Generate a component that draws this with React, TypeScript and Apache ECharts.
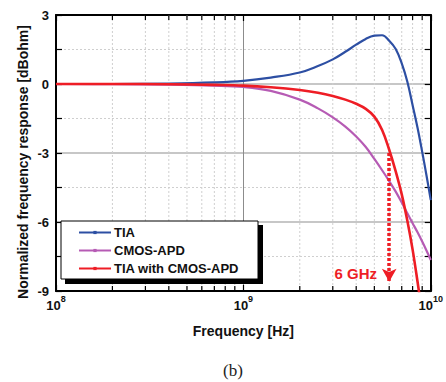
import React, { useEffect, useRef } from "react";
import * as echarts from "echarts";

// Frequencies in GHz (shared by the three curves), responses in dB
const FREQ_GHZ = [0.1, 0.2, 0.4, 0.7, 1.0, 1.4, 2.0, 2.5, 3.0, 3.5, 4.0, 4.5, 5.0, 5.5, 6.0, 6.5, 7.0, 7.5, 8.0, 8.5, 9.0, 9.5, 10];
const TIA_DB = [0, 0, 0.02, 0.07, 0.14, 0.28, 0.5, 0.78, 1.07, 1.4, 1.71, 1.96, 2.1, 2.12, 1.88, 1.52, 0.9, 0.1, -0.92, -1.9, -2.95, -4.0, -5.05];
const APD_DB = [0, -0.01, -0.03, -0.07, -0.13, -0.3, -0.68, -1.06, -1.45, -1.85, -2.28, -2.74, -3.26, -3.75, -4.22, -4.68, -5.15, -5.62, -6.05, -6.45, -6.85, -7.25, -7.65];
const COMB_DB = [0, 0, -0.01, -0.04, -0.07, -0.14, -0.26, -0.38, -0.52, -0.68, -0.86, -1.08, -1.42, -2.0, -2.86, -3.8, -4.8, -5.95, -7.2, -8.6, -10.0, -11.4, -12.8];

const SERIES_NAMES = ["TIA", "CMOS-APD", "TIA with CMOS-APD"];
const MINOR_FREQS = [2e8, 3e8, 4e8, 5e8, 6e8, 7e8, 8e8, 9e8, 2e9, 3e9, 4e9, 5e9, 6e9, 7e9, 8e9, 9e9];
const BANDWIDTH_HZ = 6e9;
const BANDWIDTH_LABEL = "6 GHz";
const Y_MIN = -9;
const Y_MAX = 3;
const Y_STEP = 3;
const X_MIN = 1e8;
const X_MAX = 1e10;

const BLUE = "#2d4fa3";
const PURPLE = "#b65bb4";
const RED = "#ee1d25";
const FONT = "Arial, 'Liberation Sans', Helvetica, sans-serif";

const toPairs = (db: number[]) => FREQ_GHZ.map((g, i) => [g * 1e9, db[i]]);

export default function App() {
  const ref = useRef<HTMLDivElement>(null);
  useEffect(() => {
    if (!ref.current) return;
    const chart = echarts.init(ref.current, null, { renderer: "svg" });
    const axisLine = { show: true, onZero: false, lineStyle: { color: "#000", width: 2 } };
    const xCommon = {
      type: "log",
      logBase: 10,
      min: X_MIN,
      max: X_MAX,
      axisLine,
      axisTick: { show: true, inside: true, length: 6, lineStyle: { color: "#000", width: 1.2 } },
    };
    const yCommon = {
      type: "value",
      min: Y_MIN,
      max: Y_MAX,
      interval: Y_STEP,
      axisLine,
      axisTick: { show: true, inside: true, length: 6, lineStyle: { color: "#000", width: 1.2 } },
      minorTick: { show: true, splitNumber: 2, length: 6, lineStyle: { color: "#000", width: 1.2 } },
    };
    const lineCommon = {
      type: "line",
      smooth: 0.4,
      symbol: "rect",
      symbolSize: 3,
      showSymbol: false,
    };
    const option: any = {
      animation: false,
      backgroundColor: "#fff",
      grid: { left: 56, right: 12, top: 15, bottom: 91 },
      xAxis: [
        {
          ...xCommon,
          position: "bottom",
          name: "Frequency [Hz]",
          nameLocation: "middle",
          nameGap: 33,
          nameTextStyle: { fontFamily: FONT, fontWeight: "bold", fontSize: 14, color: "#111" },
          splitLine: { show: true, lineStyle: { color: "#8c8c8c", width: 1 } },
          axisLabel: {
            margin: 3,
            formatter: (v: number) => "{a|10}{b|" + Math.round(Math.log10(v)) + "}",
            rich: {
              a: { fontFamily: FONT, fontWeight: "bold", fontSize: 13, color: "#111", lineHeight: 18, verticalAlign: "bottom" },
              b: { fontFamily: FONT, fontWeight: "bold", fontSize: 9, color: "#111", lineHeight: 9, verticalAlign: "top" },
            },
          },
        },
        {
          ...xCommon,
          position: "top",
          axisLabel: { show: false },
          splitLine: { show: false },
        },
      ],
      yAxis: [
        {
          ...yCommon,
          position: "left",
          splitLine: { show: true, lineStyle: { color: "#b4b4b4", width: 1.5 } },
          minorSplitLine: { show: true, lineStyle: { color: "#cfcfcf", width: 1, type: [2, 2] } },
          axisLabel: { margin: 7, fontFamily: FONT, fontWeight: "bold", fontSize: 13, color: "#111" },
        },
        {
          ...yCommon,
          position: "right",
          axisLabel: { show: false },
          splitLine: { show: false },
        },
      ],
      legend: {
        data: SERIES_NAMES,
        orient: "vertical",
        left: 78,
        top: 226,
        padding: 0,
        itemWidth: 32,
        itemHeight: 4,
        itemGap: 5,
        z: 20,
        textStyle: { fontFamily: FONT, fontWeight: "bold", fontSize: 13, color: "#111", padding: [0, 0, 0, -2] },
      },
      graphic: [
        { type: "rect", z: 10, shape: { x: 65, y: 225, width: 198, height: 59 }, style: { fill: "#000" } },
        { type: "rect", z: 11, shape: { x: 61, y: 221, width: 197, height: 58 }, style: { fill: "#fff", stroke: "#000", lineWidth: 1 } },
        {
          type: "text",
          z: 11,
          x: 377,
          y: 273,
          style: { text: BANDWIDTH_LABEL, fill: RED, fontFamily: FONT, fontWeight: "bold", fontSize: 15, align: "right", verticalAlign: "middle" },
        },
        {
          type: "text",
          x: 23,
          y: 162,
          rotation: Math.PI / 2,
          style: {
            text: "Normalized frequency response [dBohm]",
            fill: "#111",
            fontFamily: FONT,
            fontWeight: "bold",
            fontSize: 14,
            align: "center",
            verticalAlign: "middle",
          },
        },
        {
          type: "text",
          x: 233,
          y: 370,
          style: {
            text: "(b)",
            fill: "#222",
            fontFamily: "'Liberation Serif', 'Times New Roman', serif",
            fontSize: 17,
            align: "center",
            verticalAlign: "middle",
          },
        },
      ],
      series: [
        {
          type: "custom",
          silent: true,
          z: 1,
          clip: false,
          data: MINOR_FREQS.map((f) => [f, Y_MIN]),
          encode: { x: 0, y: 1 },
          renderItem: (params: any, api: any) => {
            const x = api.coord([api.value(0), Y_MIN])[0];
            const cs = params.coordSys;
            const top = cs.y;
            const bottom = cs.y + cs.height;
            return {
              type: "group",
              children: [
                { type: "line", shape: { x1: x, y1: top, x2: x, y2: bottom }, style: { stroke: "#cfcfcf", lineWidth: 1, lineDash: [2, 2] } },
                { type: "line", shape: { x1: x, y1: bottom, x2: x, y2: bottom - 5 }, style: { stroke: "#000", lineWidth: 1.2 } },
                { type: "line", shape: { x1: x, y1: top, x2: x, y2: top + 5 }, style: { stroke: "#000", lineWidth: 1.2 } },
              ],
            };
          },
        },
        {
          ...lineCommon,
          name: SERIES_NAMES[0],
          data: toPairs(TIA_DB),
          color: BLUE,
          lineStyle: { color: BLUE, width: 2.2 },
          z: 2,
        },
        {
          ...lineCommon,
          name: SERIES_NAMES[1],
          data: toPairs(APD_DB),
          color: PURPLE,
          lineStyle: { color: PURPLE, width: 2.2 },
          z: 3,
        },
        {
          ...lineCommon,
          name: SERIES_NAMES[2],
          data: toPairs(COMB_DB),
          color: RED,
          lineStyle: { color: RED, width: 2.6 },
          z: 4,
          markLine: {
            silent: true,
            symbol: ["none", "arrow"],
            symbolSize: [11, 13],
            label: { show: false },
            lineStyle: { color: RED, width: 3.5, type: [3, 2] },
            data: [[{ coord: [BANDWIDTH_HZ, -3] }, { coord: [BANDWIDTH_HZ, -8.6] }]],
          },
        },
      ],
    };
    chart.setOption(option);
    return () => chart.dispose();
  }, []);
  return <div ref={ref} style={{ position: "absolute", left: 0, top: 0, width: 446, height: 382 }} />;
}
